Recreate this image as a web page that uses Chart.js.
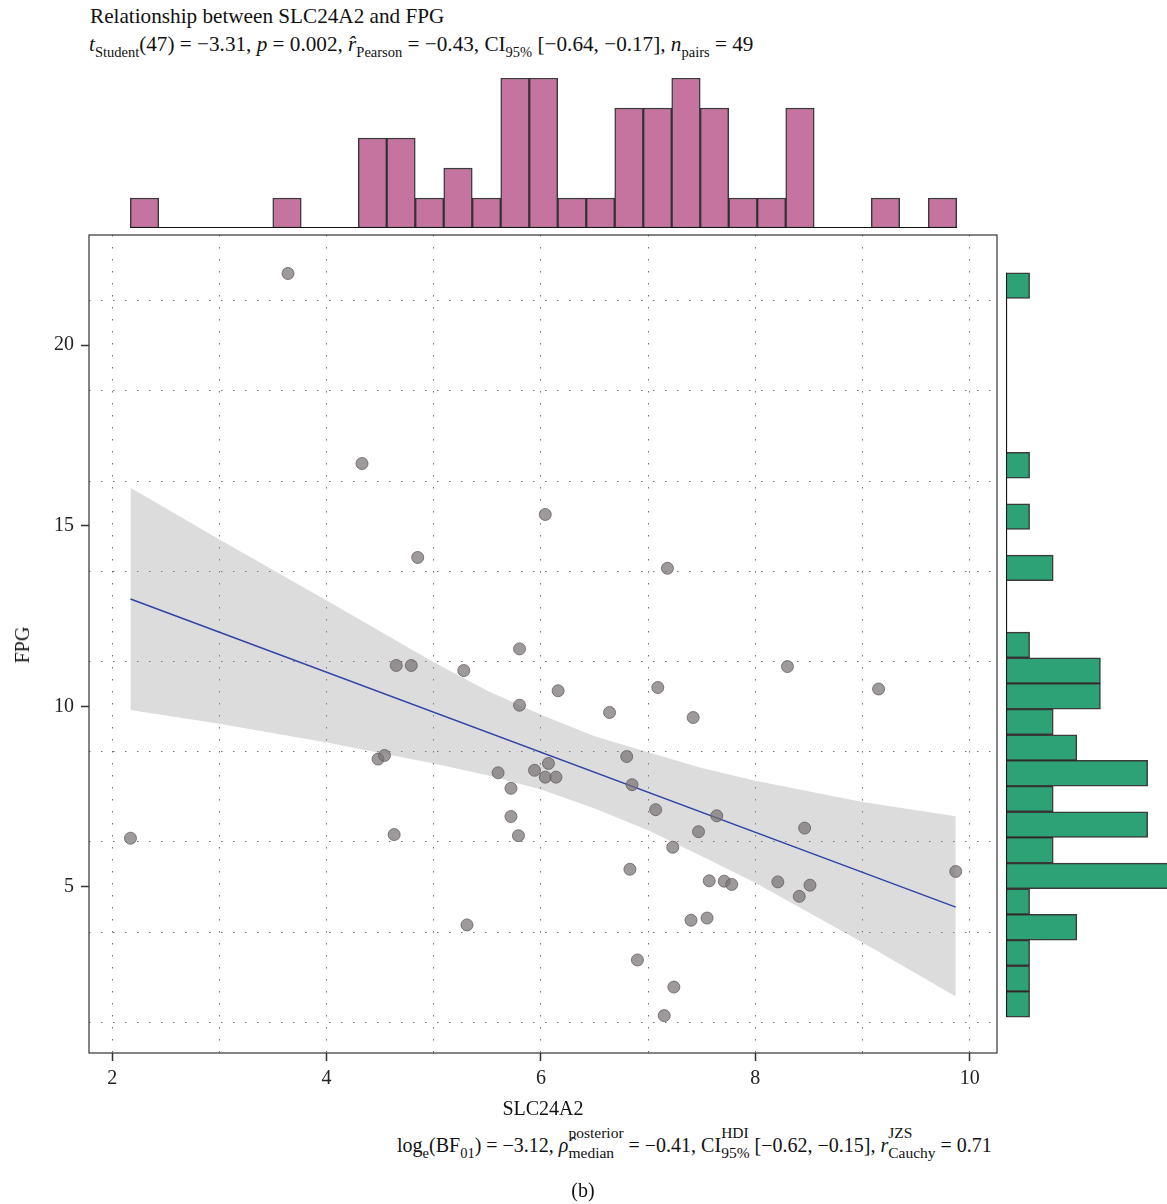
<!DOCTYPE html>
<html>
<head>
<meta charset="utf-8">
<script src="https://cdn.jsdelivr.net/npm/chart.js@4.4.1/dist/chart.umd.min.js"></script>
<style>
  body { margin: 0; background: #fff; width: 1167px; height: 1204px; position: relative; overflow: hidden;
         font-family: "Liberation Serif", "DejaVu Serif", serif; color: #111; }
  canvas { position: absolute; }
  .t { position: absolute; white-space: nowrap; font-size: 20px; line-height: 24px; }
  .big { font-size: 21.2px; }
  .s { font-size: 14.5px; position: relative; top: 6px; }
  .st { display: inline-flex; flex-direction: column; font-size: 15.5px; line-height: 14px; position: relative; top: -14px; }
  .st .dn { margin-top: 6px; }
</style>
</head>
<body>
<canvas id="topHist" width="1000" height="175" style="left:0;top:60px"></canvas>
<canvas id="main" width="1004" height="880" style="left:0;top:225px"></canvas>
<canvas id="sideHist" width="167" height="880" style="left:1000px;top:225px"></canvas>

<div class="t big" style="left:90px;top:4px">Relationship between SLC24A2 and FPG</div>
<div class="t big" style="left:89px;top:32px"><i>t</i><span class="s">Student</span>(47) = −3.31, <i>p</i> = 0.002, <i>r̂</i><span class="s">Pearson</span> = −0.43, CI<span class="s">95%</span> [−0.64, −0.17], <i>n</i><span class="s">pairs</span> = 49</div>
<div class="t" style="left:543px;top:1096px;transform:translateX(-50%)">SLC24A2</div>
<div class="t" style="left:22px;top:645px;transform:translate(-50%,-50%) rotate(-90deg)">FPG</div>
<div class="t" style="left:397px;top:1133px">log<span class="s">e</span>(BF<span class="s">01</span>) = −3.12, <i>ρ̂</i><span class="st"><span>posterior</span><span class="dn">median</span></span> = −0.41, CI<span class="st"><span>HDI</span><span class="dn">95%</span></span> [−0.62, −0.15], <i>r</i><span class="st"><span>JZS</span><span class="dn">Cauchy</span></span> = 0.71</div>
<div class="t" style="left:583px;top:1178px;transform:translateX(-50%)">(b)</div>

<script>
// observed values
const slc = [2.17, 3.64, 4.33, 4.85, 6.04, 7.18, 5.80, 4.65, 4.79, 5.28,
             6.16, 7.09, 8.30, 9.15, 5.80, 6.64, 7.42, 4.48, 4.54, 6.80,
             5.60, 5.94, 6.07, 6.04, 6.14, 6.85, 5.72, 7.07, 7.64, 5.72,
             7.47, 8.46, 4.63, 5.79, 7.23, 6.83, 7.57, 7.71, 7.78, 8.21,
             8.51, 8.41, 9.87, 7.40, 7.55, 5.31, 6.90, 7.24, 7.15];
const fpg = [6.35, 21.98, 16.72, 14.12, 15.31, 13.82, 11.59, 11.13, 11.13, 10.99,
             10.43, 10.52, 11.10, 10.48, 10.03, 9.83, 9.69, 8.54, 8.64, 8.61,
             8.16, 8.23, 8.42, 8.04, 8.04, 7.83, 7.73, 7.14, 6.97, 6.95,
             6.53, 6.63, 6.45, 6.42, 6.10, 5.49, 5.17, 5.16, 5.07, 5.14,
             5.05, 4.74, 5.43, 4.08, 4.14, 3.95, 2.98, 2.23, 1.44];

// fitted line and its 95% band
const fitX = [2.17, 9.87];
const fitY = [12.97, 4.44];
const bandX  = [2.17, 3, 4, 5, 5.5, 6, 6.5, 7, 7.5, 8, 9, 9.87];
const bandHi = [16.05, 14.62, 12.93, 11.22, 10.43, 9.77, 9.17, 8.73, 8.29, 7.94, 7.35, 6.96];
const bandLo = [9.90, 9.52, 9.00, 8.42, 8.09, 7.70, 7.17, 6.57, 5.85, 5.12, 3.46, 1.97];

// marginal histograms
const xBinStart = 2.168, xBinWidth = 0.2659;
const xCounts = [1,0,0,0,0,1,0,0,3,3,1,2,1,5,5,1,1,4,4,5,4,1,1,4,0,0,1,0,1];
const yBinStart = 1.40, yBinWidth = 0.7103;
const yCounts = [1,1,1,3,1,7,2,6,2,6,3,2,4,4,1,0,0,2,0,1,0,1,0,0,0,0,0,0,1];

// axes
const xRange = [1.783, 10.255];
const yRange = [0.405, 23.045];
const xTicks = [2, 3, 4, 5, 6, 7, 8, 9, 10];
const yTicks = [5, 10, 15, 20];
const yGrid = [1.24, 3.73, 6.25, 8.74, 11.23, 13.72, 16.21, 18.73, 21.22];

const serif = { family: 'Liberation Serif', size: 20 };
const dots = [1.5, 10.5];

// no automatic label padding, the plot box is placed by hand
const noPad = s => { s.paddingTop = 0; s.paddingBottom = 0; s.paddingLeft = 0; s.paddingRight = 0; };

const boxBorder = {
    id: 'boxBorder',
    afterDraw(chart) {
        const { ctx, chartArea: a } = chart;
        ctx.save();
        ctx.strokeStyle = '#333';
        ctx.lineWidth = 1.2;
        ctx.strokeRect(a.left, a.top, a.right - a.left, a.bottom - a.top);
        ctx.restore();
    }
};

new Chart(document.getElementById('main'), {
    type: 'scatter',
    data: {
        datasets: [{
            data: slc.map((x, i) => ({ x: x, y: fpg[i] })),
            pointRadius: 6,
            pointBackgroundColor: 'rgba(120,115,117,0.72)',
            pointBorderColor: 'rgba(95,90,92,0.75)',
            pointBorderWidth: 1
        }, {
            type: 'line',
            data: fitX.map((x, i) => ({ x: x, y: fitY[i] })),
            borderColor: '#2f42a6',
            borderWidth: 1.4,
            pointRadius: 0
        }, {
            type: 'line',
            data: bandX.map((x, i) => ({ x: x, y: bandLo[i] })),
            borderWidth: 0,
            pointRadius: 0,
            fill: false
        }, {
            type: 'line',
            data: bandX.map((x, i) => ({ x: x, y: bandHi[i] })),
            borderWidth: 0,
            pointRadius: 0,
            backgroundColor: 'rgba(150,150,150,0.33)',
            fill: '-1'
        }]
    },
    options: {
        responsive: false,
        animation: false,
        events: [],
        layout: { padding: { top: 10, right: 3, left: 0, bottom: 0 } },
        plugins: { legend: { display: false }, tooltip: { enabled: false } },
        scales: {
            x: {
                type: 'linear', min: xRange[0], max: xRange[1],
                afterBuildTicks: s => { s.ticks = xTicks.map(v => ({ value: v })); },
                afterFit: s => { s.height = 52; noPad(s); },
                ticks: { font: serif, color: '#222', padding: 6, maxRotation: 0,
                         callback: v => (v % 2 === 0 ? v : '') },
                grid: { color: '#6f6f6f', lineWidth: 1, tickLength: 8, tickWidth: 1.5,
                        tickColor: c => (c.tick && c.tick.value % 2 === 0 ? '#333' : 'rgba(0,0,0,0)') },
                border: { display: false, dash: dots }
            },
            y: {
                type: 'linear', min: yRange[0], max: yRange[1],
                afterBuildTicks: s => { s.ticks = yTicks.map(v => ({ value: v })); },
                afterFit: s => { s.width = 89; noPad(s); },
                ticks: { font: serif, color: '#222', padding: 7 },
                grid: { drawOnChartArea: false, tickLength: 8, tickWidth: 1.5, tickColor: '#333' },
                border: { display: false }
            },
            yg: {
                type: 'linear', position: 'left', min: yRange[0], max: yRange[1],
                afterBuildTicks: s => { s.ticks = yGrid.map(v => ({ value: v })); },
                afterFit: s => { s.width = 0; noPad(s); },
                ticks: { display: false },
                grid: { color: '#6f6f6f', lineWidth: 1, drawTicks: false },
                border: { display: false, dash: dots }
            }
        }
    },
    plugins: [boxBorder]
});

// top marginal histogram
new Chart(document.getElementById('topHist'), {
    type: 'bar',
    data: {
        datasets: [{
            data: xCounts.map((c, i) => ({ x: xBinStart + (i + 0.5) * xBinWidth, y: c })),
            backgroundColor: '#c5749f',
            borderColor: 'rgba(25,25,25,0.85)',
            borderWidth: 1.5,
            borderSkipped: false,
            barPercentage: 1,
            categoryPercentage: 1
        }, {
            type: 'line',
            data: [{ x: xBinStart, y: 0 }, { x: xBinStart + xCounts.length * xBinWidth, y: 0 }],
            borderColor: '#111',
            borderWidth: 2.2,
            pointRadius: 0
        }]
    },
    options: {
        responsive: false,
        animation: false,
        events: [],
        layout: { padding: { top: 18, right: 3, left: 89, bottom: 7 } },
        plugins: { legend: { display: false }, tooltip: { enabled: false } },
        scales: {
            x: { type: 'linear', display: false, min: xRange[0], max: xRange[1],
                 afterBuildTicks: s => { s.ticks = []; } },
            y: { type: 'linear', display: false, min: 0, max: 5,
                 afterBuildTicks: s => { s.ticks = []; } }
        }
    }
});

// right marginal histogram
new Chart(document.getElementById('sideHist'), {
    type: 'bar',
    data: {
        datasets: [{
            data: yCounts.map((c, i) => ({ x: c, y: yBinStart + (i + 0.5) * yBinWidth })),
            backgroundColor: '#2ca276',
            borderColor: 'rgba(25,25,25,0.85)',
            borderWidth: 1.5,
            borderSkipped: false,
            barPercentage: 1,
            categoryPercentage: 1
        }, {
            type: 'line',
            data: [{ x: 0, y: yBinStart }, { x: 0, y: yBinStart + yCounts.length * yBinWidth }],
            borderColor: '#111',
            borderWidth: 2.2,
            pointRadius: 0
        }]
    },
    options: {
        indexAxis: 'y',
        responsive: false,
        animation: false,
        events: [],
        layout: { padding: { top: 10, right: 0, left: 6, bottom: 52 } },
        plugins: { legend: { display: false }, tooltip: { enabled: false } },
        scales: {
            x: { type: 'linear', display: false, min: 0, max: 6.82,
                 afterBuildTicks: s => { s.ticks = []; } },
            y: { type: 'linear', display: false, min: yRange[0], max: yRange[1],
                 afterBuildTicks: s => { s.ticks = []; } }
        }
    }
});
</script>
</body>
</html>
